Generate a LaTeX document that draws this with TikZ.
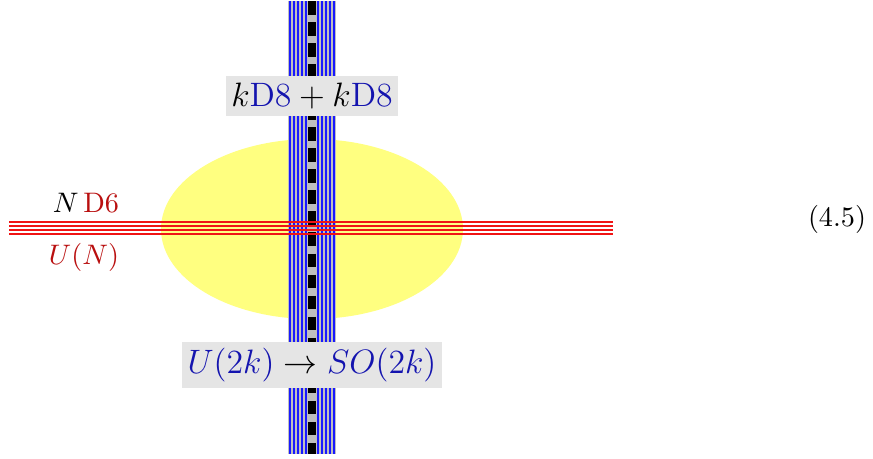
\documentclass[tikz,border=0pt]{standalone}
\usepackage{amsmath}
\definecolor{lblue}{RGB}{20,20,175}
\definecolor{lred}{RGB}{185,15,15}
\definecolor{linered}{RGB}{240,20,20}
\definecolor{lineblue}{RGB}{25,25,255}
\definecolor{ellyellow}{RGB}{255,255,128}
\begin{document}
\begin{tikzpicture}[x=0.3545pt,y=-0.3545pt]
\tikzset{
  bluestr/.style={color=lineblue,line width=0.55pt},
  dsixline/.style={draw=linered,line width=0.6pt},
  labelbox/.style={fill=gray!20,inner xsep=2pt,inner ysep=2.3pt,font=\large},
  plainlbl/.style={inner sep=0pt}}
\useasboundingbox (0,0) rectangle (873,458);
% ellipse
\fill[ellyellow] (312,229) ellipse [x radius=151, y radius=90];
% vertical stack
\fill[gray!50] (288,1) rectangle (336,454);
\foreach \xx in {290,294,298,302,306,318,322,326,330,334}
  \draw[bluestr] (\xx,1) -- (\xx,454);
\coordinate (ctop) at (312,1);
\coordinate (cbot) at (312,454);
\draw[color=black,line width=2.6pt,dash pattern=on 4.8pt off 2.66pt] (ctop) -- (cbot);
% horizontal stack
\foreach \yy in {222,226,230,234}{
  \coordinate (l\yy) at (9,\yy);
  \coordinate (r\yy) at (613,\yy);
  \draw[dsixline] (l\yy) -- (r\yy);
}
% labels
\node[labelbox] (top) at (312,96) {$k\textcolor{lblue}{\mathrm{D}8}+k\textcolor{lblue}{\mathrm{D}8}$};
\node[labelbox] (bot) at (312,365) {$\textcolor{lblue}{U(2k)}\to\textcolor{lblue}{SO(2k)}$};
\node[plainlbl] (nd6) at (86,203) {$N\,\textcolor{lred}{\mathrm{D}6}$};
\node[plainlbl] (un) at (84,257) {$\textcolor{lred}{U(N)}$};
\node[plainlbl] (eq) at (837,219) {(4.5)};
\end{tikzpicture}
\end{document}
